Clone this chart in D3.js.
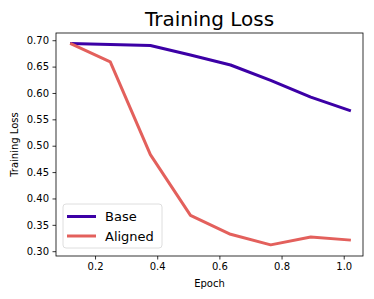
<!DOCTYPE html>
<html>
<head>
<meta charset="utf-8">
<script src="https://cdn.jsdelivr.net/npm/d3@7"></script>
<style>
  body { margin: 0; background: #fff; }
  text { font-family: "DejaVu Sans", sans-serif; }
</style>
</head>
<body>
<div id="chart"></div>
<script>
// data
var epochs = [0.120, 0.249, 0.378, 0.507, 0.636, 0.765, 0.894, 1.023];
var baseLoss = [0.694, 0.692, 0.690, 0.672, 0.653, 0.624, 0.592, 0.566];
var alignedLoss = [0.694, 0.659, 0.483, 0.368, 0.332, 0.312, 0.327, 0.321];
var xTicks = [0.2, 0.4, 0.6, 0.8, 1.0];
var yTicks = [0.30, 0.35, 0.40, 0.45, 0.50, 0.55, 0.60, 0.65, 0.70];

var W = 374, H = 299;
var margin = {top: 33, right: 11, bottom: 43, left: 56};
var width = W - margin.left - margin.right,
    height = H - margin.top - margin.bottom;

var svg = d3.select("#chart")
  .append("svg")
    .attr("width", W)
    .attr("height", H)
  .append("g")
    .attr("transform", "translate(" + margin.left + "," + margin.top + ")");

var x = d3.scaleLinear()
  .domain([0.0744, 1.062])
  .range([0, width]);
var y = d3.scaleLinear()
  .domain([0.2909, 0.7137])
  .range([height, 0]);

// axes
var xAxis = svg.append("g")
  .attr("transform", "translate(0," + height + ")")
  .call(d3.axisBottom(x).tickValues(xTicks).tickFormat(d3.format(".1f")).tickSizeOuter(0).tickSize(3.5).tickPadding(3.5));
var yAxis = svg.append("g")
  .call(d3.axisLeft(y).tickValues(yTicks).tickFormat(d3.format(".2f")).tickSizeOuter(0).tickSize(3.5).tickPadding(3.5));
[xAxis, yAxis].forEach(function(a) {
  a.select(".domain").remove();
  a.selectAll("text").style("font-size", "10px").attr("fill", "#000");
  a.selectAll("line").attr("stroke", "#000").attr("stroke-width", 0.8);
});

// lines
var line = function(vals) {
  return d3.line()
    .x(function(d, i) { return x(epochs[i]); })
    .y(function(d) { return y(d); })(vals);
};
svg.append("path")
  .attr("d", line(baseLoss))
  .attr("fill", "none")
  .attr("stroke", "#3c00a6")
  .attr("stroke-width", 3)
  .attr("stroke-linejoin", "round");
svg.append("path")
  .attr("d", line(alignedLoss))
  .attr("fill", "none")
  .attr("stroke", "#e3605c")
  .attr("stroke-width", 3)
  .attr("stroke-linejoin", "round");

// frame
svg.append("rect")
  .attr("width", width)
  .attr("height", height)
  .attr("fill", "none")
  .attr("stroke", "#000")
  .attr("stroke-width", 0.8);

// legend
var legend = svg.append("g").attr("transform", "translate(7,171)");
legend.append("rect")
  .attr("width", 99)
  .attr("height", 44)
  .attr("rx", 3)
  .attr("fill", "#fff")
  .attr("fill-opacity", 0.8)
  .attr("stroke", "#d6d6d6")
  .attr("stroke-width", 0.8);
[["Base", "#3c00a6"], ["Aligned", "#e3605c"]].forEach(function(d, i) {
  var g = legend.append("g").attr("transform", "translate(0," + (12.5 + i * 19.5) + ")");
  g.append("line")
    .attr("x1", 4).attr("x2", 33)
    .attr("stroke", d[1]).attr("stroke-width", 3);
  g.append("text")
    .attr("x", 42).attr("dy", "0.36em")
    .style("font-size", "13px")
    .text(d[0]);
});

// title & labels
svg.append("text")
  .attr("x", width / 2)
  .attr("y", -7)
  .attr("text-anchor", "middle")
  .style("font-size", "20px")
  .text("Training Loss");
svg.append("text")
  .attr("x", width / 2)
  .attr("y", height + 31)
  .attr("text-anchor", "middle")
  .style("font-size", "10px")
  .text("Epoch");
svg.append("text")
  .attr("transform", "rotate(-90)")
  .attr("x", -height / 2)
  .attr("y", -38)
  .attr("text-anchor", "middle")
  .style("font-size", "10px")
  .text("Training Loss");
</script>
</body>
</html>
